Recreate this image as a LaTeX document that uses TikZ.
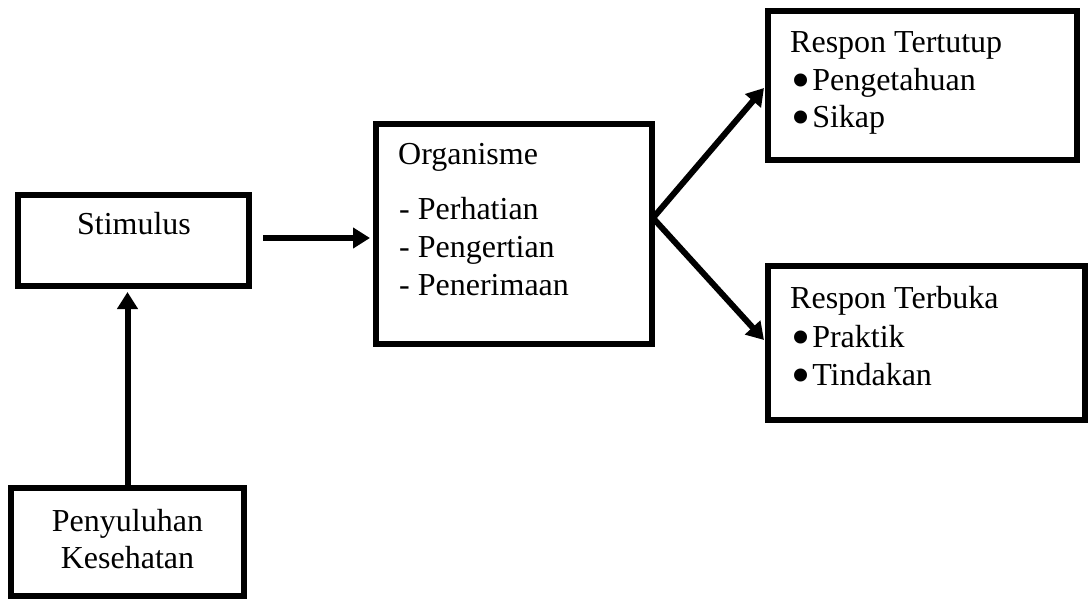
\documentclass[tikz,border=0pt]{standalone}
\usepackage{fontspec}
\setmainfont{Liberation Serif}
\usetikzlibrary{arrows.meta}
\newcommand{\bigbul}{\smash{\raisebox{-8pt}{\scalebox{1.7}{•}}}\hspace{2pt}}
\begin{document}
\begin{tikzpicture}[x=1pt,y=-1pt,
  box/.style={draw=black,line width=6pt,inner sep=0pt,rectangle},
  txt/.style={inner sep=0pt,font=\fontsize{32}{37}\selectfont},
  arr/.style={line width=6pt,-{Triangle[length=17pt,width=20pt]}}]
\useasboundingbox (0,0) rectangle (1088,599);
% boxes
\node[box,minimum width=231pt,minimum height=91pt] (stim) at (133.5,240.5) {};
\node[box,minimum width=276pt,minimum height=220pt] (org) at (514,234) {};
\node[box,minimum width=309pt,minimum height=149pt] (tert) at (922.5,85.5) {};
\node[box,minimum width=317pt,minimum height=154pt] (terb) at (926.5,343) {};
\node[box,minimum width=233pt,minimum height=108pt] (peny) at (127.5,542) {};
% texts
\node[txt,anchor=base] (tstim) at (134,235) {Stimulus};
\node[txt,anchor=base west] (torg) at (398,165) {Organisme};
\node[txt,anchor=base west] (torg1) at (399,220) {- Perhatian};
\node[txt,anchor=base west] (torg2) at (399,258) {- Pengertian};
\node[txt,anchor=base west] (torg3) at (399,295) {- Penerimaan};
\node[txt,anchor=base west] (ttert) at (790,53) {Respon Tertutup};
\node[txt,anchor=base west] (ttert1) at (791,91) {\bigbul Pengetahuan};
\node[txt,anchor=base west] (ttert2) at (791,128) {\bigbul Sikap};
\node[txt,anchor=base west] (tterb) at (790,308) {Respon Terbuka};
\node[txt,anchor=base west] (tterb1) at (791,347) {\bigbul Praktik};
\node[txt,anchor=base west] (tterb2) at (791,385) {\bigbul Tindakan};
\node[txt,anchor=base] (tpeny1) at (127.5,531) {Penyuluhan};
\node[txt,anchor=base] (tpeny2) at (127.5,568) {Kesehatan};
% connectors
\coordinate (fork) at (653,218);
\draw[arr] ([xshift=11pt]stim.east |- 0,238) -- ([xshift=-3pt]org.west |- 0,238);
\draw[arr,shorten >=3pt] (peny.north) -- (stim.south -| peny.north);
\draw[arr] (fork) -- ([xshift=-1pt]tert.west |- 0,88);
\draw[arr] (fork) -- ([xshift=-1pt]terb.west |- 0,340);
\end{tikzpicture}
\end{document}
